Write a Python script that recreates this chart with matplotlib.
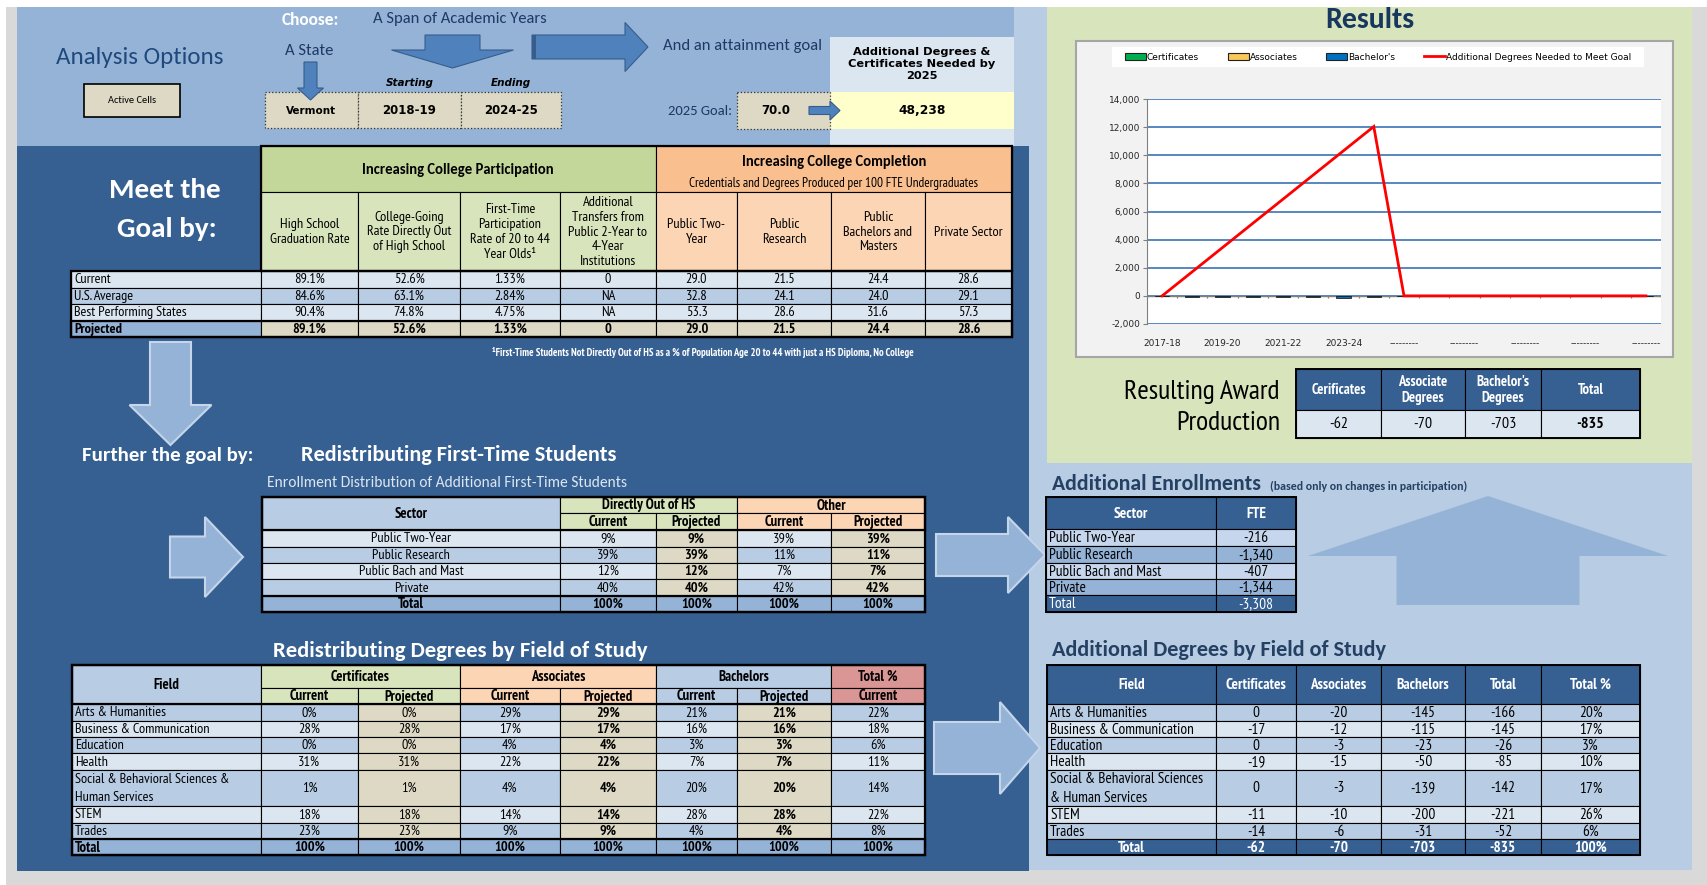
import matplotlib
matplotlib.use('Agg')
import matplotlib.pyplot as plt
from matplotlib.patches import Rectangle, Polygon, Patch
from matplotlib.lines import Line2D
from matplotlib import font_manager as fm
import numpy as np

# ---------------- data ----------------
state = "Vermont"
start_year = "2018-19"
end_year = "2024-25"
goal_2025 = 70.0
degrees_needed = 48238

goal_row_labels = ["Current", "U.S. Average", "Best Performing States", "Projected"]
hs_grad_rate = [89.1, 84.6, 90.4, 89.1]
college_going_rate = [52.6, 63.1, 74.8, 52.6]
first_time_rate = [1.33, 2.84, 4.75, 1.33]
transfers = ["0", "NA", "NA", "0"]
public_two_year = [29.0, 32.8, 53.3, 29.0]
public_research = [21.5, 24.1, 28.6, 21.5]
public_bach_mast = [24.4, 24.0, 31.6, 24.4]
private_sector = [28.6, 29.1, 57.3, 28.6]

participation_headers = ["High School\nGraduation Rate",
                         "College-Going\nRate Directly Out\nof High School",
                         "First-Time\nParticipation\nRate of 20 to 44\nYear Olds\u00b9",
                         "Additional\nTransfers from\nPublic 2-Year to\n4-Year\nInstitutions"]
completion_headers = ["Public Two-\nYear", "Public\nResearch", "Public\nBachelors and\nMasters", "Private Sector"]

sectors = ["Public Two-Year", "Public Research", "Public Bach and Mast", "Private"]
direct_current = [9, 39, 12, 40]
direct_projected = [9, 39, 12, 40]
other_current = [39, 11, 7, 42]
other_projected = [39, 11, 7, 42]
sector_totals = [100, 100, 100, 100]

fields = ["Arts & Humanities", "Business & Communication", "Education", "Health",
          "Social & Behavioral Sciences &\nHuman Services", "STEM", "Trades"]
cert_current = [0, 28, 0, 31, 1, 18, 23]
cert_projected = [0, 28, 0, 31, 1, 18, 23]
assoc_current = [29, 17, 4, 22, 4, 14, 9]
assoc_projected = [29, 17, 4, 22, 4, 14, 9]
bach_current = [21, 16, 3, 7, 20, 28, 4]
bach_projected = [21, 16, 3, 7, 20, 28, 4]
total_pct_current = [22, 18, 6, 11, 14, 22, 8]
field_totals = [100, 100, 100, 100, 100, 100, 100]

award_labels = ["Cerificates", "Associate\nDegrees", "Bachelor's\nDegrees", "Total"]
award_values = [-62, -70, -703, -835]

enroll_fte = [-216, -1340, -407, -1344]
enroll_total = -3308

fields_right = ["Arts & Humanities", "Business & Communication", "Education", "Health",
                "Social & Behavioral Sciences\n& Human Services", "STEM", "Trades"]
add_cert = [0, -17, 0, -19, 0, -11, -14]
add_assoc = [-20, -12, -3, -15, -3, -10, -6]
add_bach = [-145, -115, -23, -50, -139, -200, -31]
add_total = [-166, -145, -26, -85, -142, -221, -52]
add_total_pct = [20, 17, 3, 10, 17, 26, 6]
add_grand = [-62, -70, -703, -835]

chart_years = ["2017-18", "2018-19", "2019-20", "2020-21", "2021-22", "2022-23",
               "2023-24", "2024-25"] + ["---------"] * 9
needed_line = [0, 1720, 3440, 5160, 6880, 8600, 10320, 12040, 0, 0, 0, 0, 0, 0, 0, 0, 0]
bar_cert = [0, -9, -9, -9, -9, -9, -9, -8, 0, 0, 0, 0, 0, 0, 0, 0, 0]
bar_assoc = [0, -10, -10, -10, -10, -10, -10, -10, 0, 0, 0, 0, 0, 0, 0, 0, 0]
bar_bach = [0, -90, -90, -90, -90, -90, -163, -90, 0, 0, 0, 0, 0, 0, 0, 0, 0]

# ---------------- fonts ----------------
entries = fm.fontManager.ttflist


def has_bold(name):
    return any(e.name == name and str(e.weight) in ('700', 'bold') for e in entries)


def pick(cands, default):
    names = {e.name for e in entries}
    for c in cands:
        if c in names and has_bold(c):
            return c
    for c in cands:
        if c in names:
            return c
    return default


NARROW = pick(['Liberation Sans Narrow', 'PT Sans Narrow', 'Arimo Narrow', 'Roboto Condensed',
               'Archivo Narrow', 'Asap Condensed', 'Barlow Semi Condensed', 'Cabin Condensed',
               'Barlow Condensed'], 'DejaVu Sans')
CAL = pick(['Carlito', 'Lato'], 'DejaVu Sans')
WIDE = 'DejaVu Sans'

# ---------------- colours ----------------
DARK = '#366092'
MID = '#95b3d7'
PALE = '#b8cce4'
LIGHT = '#dce6f1'
TAN = '#ddd9c4'
GREEN_H = '#c4d79b'
GREEN = '#d8e4bc'
ORANGE_H = '#fabf8f'
ORANGE = '#fcd5b4'
PINK = '#da9694'

fig = plt.figure(figsize=(17.08, 8.85), dpi=100, facecolor='#d9d9d9')
ax = fig.add_axes([0, 0, 1, 1])
ax.set_xlim(0, 1708)
ax.set_ylim(885, 0)
ax.axis('off')


def rect(x0, y0, x1, y1, fc, ec='none', lw=0, ls='-', z=1):
    ax.add_patch(Rectangle((x0, y0), x1 - x0, y1 - y0, facecolor=fc, edgecolor=ec,
                           linewidth=lw, linestyle=ls, zorder=z))


def T(x, y, s, size=10, color='black', weight='normal', ha='center', va='center',
      fam=None, style='normal', z=6, ls=1.15):
    ax.text(x, y, s, fontsize=size, color=color, fontweight=weight, ha=ha, va=va,
            family=fam or NARROW, style=style, zorder=z, linespacing=ls)


def cell(x0, y0, x1, y1, fc, s='', size=10, weight='normal', color='black', ha='center',
         lw=0.8, fam=None, ls=1.15):
    rect(x0, y0, x1, y1, fc, ec='black', lw=lw, z=3)
    if s != '':
        tx = (x0 + x1) / 2 if ha == 'center' else x0 + 3
        T(tx, (y0 + y1) / 2 + 0.5, s, size, color, weight, ha=ha, fam=fam, ls=ls)


def outline(x0, y0, x1, y1, lw=1.6):
    rect(x0, y0, x1, y1, 'none', ec='black', lw=lw, z=4)


def arrow_right(x0, x1, x2, yc, sh, hh, fc, ec='none', lw=0, z=2):
    pts = [(x0, yc - sh), (x1, yc - sh), (x1, yc - hh), (x2, yc), (x1, yc + hh), (x1, yc + sh), (x0, yc + sh)]
    ax.add_patch(Polygon(pts, closed=True, facecolor=fc, edgecolor=ec, linewidth=lw, zorder=z))


def arrow_vert(y0, y1, y2, xc, sw, hw, fc, ec='none', lw=0, z=2):
    pts = [(xc - sw, y0), (xc - sw, y1), (xc - hw, y1), (xc, y2), (xc + hw, y1), (xc + sw, y1), (xc + sw, y0)]
    ax.add_patch(Polygon(pts, closed=True, facecolor=fc, edgecolor=ec, linewidth=lw, zorder=z))


# ---------------- background panels ----------------
rect(0, 0, 1708, 7, 'white')
rect(0, 0, 6, 885, 'white')
rect(1014, 7, 1692, 870, PALE)
rect(1047, 7, 1692, 463, GREEN)
rect(17, 7, 1014, 146, MID)
rect(17, 146, 1029, 871, DARK)

# ---------------- top analysis options ----------------
T(140, 57, "Analysis Options", 18, '#1f497d', fam=CAL)
rect(84, 84, 180, 117, TAN, ec='black', lw=1.2, z=3)
T(132, 100.5, "Active Cells", 7.5, fam=CAL)

T(310, 20, "Choose:", 12.5, 'white', 'bold', fam=CAL)
T(460, 19, "A Span of Academic Years", 12, '#1f3864', fam=CAL)
T(309, 51, "A State", 12, '#1f3864', fam=CAL)
BLUE = '#4f81bd'
BEDGE = '#385d8a'
arrow_vert(62, 88, 100, 310.5, 6.5, 13, BLUE, BEDGE, 0.8, z=5)
arrow_vert(35, 50, 68, 452.5, 27.5, 61, BLUE, BEDGE, 0.8)
arrow_right(532, 625, 648, 47, 12, 24.5, BLUE, BEDGE, 0.8)
rect(532, 35, 536, 59, BEDGE, z=3)

for (x0, x1, s, fsz) in [(265, 358, state, 7.5), (358, 461, start_year, 8.5), (461, 561, end_year, 8.5)]:
    rect(x0, 92, x1, 128, TAN, ec='#333333', lw=0.9, ls=':', z=3)
    T((x0 + x1) / 2, 111, s, fsz, 'black', 'bold', fam=WIDE)
T(410, 83, "Starting", 7.5, 'black', 'bold', fam=WIDE, style='italic')
T(511, 83, "Ending", 7.5, 'black', 'bold', fam=WIDE, style='italic')

T(743, 46, "And an attainment goal", 12, '#1f3864', fam=CAL)
T(700, 111, "2025 Goal:", 10.5, '#1f3864', fam=CAL)
rect(737, 92, 830, 129, TAN, ec='#333333', lw=0.9, ls=':', z=3)
T(776, 111, f"{goal_2025:.1f}", 8.5, 'black', 'bold', fam=WIDE)

rect(830, 37, 1014, 146, LIGHT, z=2)
rect(830, 92, 1014, 129, '#ffffcc', z=2)
T(922, 64, "Additional Degrees &\nCertificates Needed by\n2025", 8.2, 'black', 'bold', fam=WIDE, ls=1.3)
T(922, 111, f"{degrees_needed:,}", 8.8, 'black', 'bold', fam=WIDE)
arrow_right(809, 830, 840, 110.5, 4, 9.5, BLUE, BEDGE, 0.8, z=5)

# ---------------- Meet the goal table ----------------
T(165, 190, "Meet the", 21, 'white', 'bold', fam=CAL)
T(167, 229, "Goal by:", 21, 'white', 'bold', fam=CAL)

xs1 = [71, 261, 358, 460, 560, 656, 737, 831, 925, 1012]
ys1 = [271, 287.5, 304, 320.5, 337]
cell(261, 146, 656, 192, GREEN_H)
T(458, 170, "Increasing College Participation", 10.5, 'black', 'bold', fam=CAL)
cell(656, 146, 1012, 192, ORANGE_H)
T(834, 162, "Increasing College Completion", 10.5, 'black', 'bold', fam=CAL)
T(834, 183, "Credentials and Degrees Produced per 100 FTE Undergraduates", 9.5)
sub_headers = participation_headers + completion_headers
for i, h in enumerate(sub_headers):
    cell(xs1[i + 1], 192, xs1[i + 2], 271, GREEN if i < 4 else ORANGE, h, 10.3, ls=1.17)

row_fill1 = [LIGHT, PALE, LIGHT, MID]
for r in range(4):
    vals = [f"{hs_grad_rate[r]:.1f}%", f"{college_going_rate[r]:.1f}%", f"{first_time_rate[r]:.2f}%",
            transfers[r], f"{public_two_year[r]:.1f}", f"{public_research[r]:.1f}",
            f"{public_bach_mast[r]:.1f}", f"{private_sector[r]:.1f}"]
    proj = (r == 3)
    cell(xs1[0], ys1[r], xs1[1], ys1[r + 1], row_fill1[r], goal_row_labels[r], 10.3,
         'bold' if proj else 'normal', ha='left')
    for c, v in enumerate(vals):
        cell(xs1[c + 1], ys1[r], xs1[c + 2], ys1[r + 1], TAN if proj else row_fill1[r], v, 10.3,
             'bold' if proj else 'normal')
outline(71, 271, 1012, 337)
outline(71, 320.5, 1012, 337)
outline(261, 146, 1012, 271)
T(703, 352, "\u00b9First-Time Students Not Directly Out of HS as a % of Population Age 20 to 44 with just a HS Diploma, No College",
  7.6, 'white', 'bold')

# ---------------- further the goal ----------------
PEDGE = '#c5d5ea'
arrow_vert(342, 405, 445, 170.5, 20.5, 41, MID, PEDGE, 1.5)
T(168, 455, "Further the goal by:", 15, 'white', 'bold', fam=CAL)
T(459, 455, "Redistributing First-Time Students", 16, 'white', 'bold', fam=CAL)
T(447, 483, "Enrollment Distribution of Additional First-Time Students", 11.2, '#dce6f1', fam=CAL)
arrow_right(170, 205, 243, 557, 20.5, 40, MID, PEDGE, 1.5)

xs2 = [262, 560, 656, 737, 831, 925]
ys2 = [530, 547, 563, 579, 596, 612]
cell(262, 497, 560, 530, PALE, "Sector", 10.5, 'bold')
cell(560, 497, 737, 513, GREEN, "Directly Out of HS", 10.5, 'bold')
cell(737, 497, 925, 513, ORANGE, "Other", 10.5, 'bold')
for i, (lab, col) in enumerate([("Current", GREEN), ("Projected", GREEN), ("Current", ORANGE), ("Projected", ORANGE)]):
    cell(xs2[i + 1], 513, xs2[i + 2], 530, col, lab, 10.5, 'bold')
row_fill2 = [LIGHT, PALE, LIGHT, PALE]
for r in range(4):
    cell(xs2[0], ys2[r], xs2[1], ys2[r + 1], row_fill2[r], sectors[r], 10.3)
    vals = [direct_current[r], direct_projected[r], other_current[r], other_projected[r]]
    for c, v in enumerate(vals):
        proj = c in (1, 3)
        cell(xs2[c + 1], ys2[r], xs2[c + 2], ys2[r + 1], TAN if proj else row_fill2[r], f"{v}%", 10.3,
             'bold' if proj else 'normal')
cell(xs2[0], ys2[4], xs2[1], ys2[5], MID, "Total", 10.5, 'bold')
for c, v in enumerate(sector_totals):
    cell(xs2[c + 1], ys2[4], xs2[c + 2], ys2[5], MID, f"{v}%", 10.3, 'bold')
outline(262, 497, 925, 612)
outline(262, 596, 925, 612)
outline(262, 497, 925, 530)

arrow_right(936, 1008, 1045, 555, 21, 38, MID, PEDGE, 1.5)

# ---------------- field of study table ----------------
T(460, 651, "Redistributing Degrees by Field of Study", 16.3, 'white', 'bold', fam=CAL)
xs3 = [72, 261, 358, 460, 560, 656, 737, 831, 925]
ys3 = [704, 721, 737, 753, 770, 806, 823, 839, 855]
cell(72, 665, 261, 704, PALE, "Field", 10.5, 'bold')
for (x0, x1, lab, col) in [(261, 460, "Certificates", GREEN), (460, 656, "Associates", ORANGE),
                           (656, 831, "Bachelors", PALE), (831, 925, "Total %", PINK)]:
    cell(x0, 665, x1, 688, col, lab, 10.5, 'bold')
sub3 = ["Current", "Projected", "Current", "Projected", "Current", "Projected", "Current"]
sub3c = [GREEN, GREEN, ORANGE, ORANGE, PALE, PALE, PINK]
for i in range(7):
    cell(xs3[i + 1], 688, xs3[i + 2], 704, sub3c[i], sub3[i], 10.5, 'bold')
row_fill3 = [PALE, LIGHT, PALE, LIGHT, PALE, LIGHT, PALE]
for r in range(7):
    cell(xs3[0], ys3[r], xs3[1], ys3[r + 1], row_fill3[r], fields[r], 10.3, ha='left', ls=1.5)
    vals = [cert_current[r], cert_projected[r], assoc_current[r], assoc_projected[r],
            bach_current[r], bach_projected[r], total_pct_current[r]]
    for c, v in enumerate(vals):
        proj = c in (1, 3, 5)
        bold = c in (3, 5)
        cell(xs3[c + 1], ys3[r], xs3[c + 2], ys3[r + 1], TAN if proj else row_fill3[r], f"{v}%", 10.3,
             'bold' if bold else 'normal')
cell(xs3[0], ys3[7], xs3[1], ys3[8], MID, "Total", 10.5, 'bold', ha='left')
for c, v in enumerate(field_totals):
    cell(xs3[c + 1], ys3[7], xs3[c + 2], ys3[8], MID, f"{v}%", 10.3, 'bold')
outline(72, 665, 925, 855)
outline(72, 839, 925, 855)
outline(72, 665, 925, 704)

arrow_right(934, 1000, 1040, 748, 26, 46, MID, PEDGE, 1.5)

# ---------------- results (right) ----------------
T(1370, 20, "Results", 21.5, '#17375e', 'bold', fam=CAL)
rect(1076, 41, 1673, 357, '#f2f2f2', ec='#a6a6a6', lw=1.5, z=2)
rect(1112, 47, 1644, 67, 'white', z=3)

T(1280, 392, "Resulting Award", 20, ha='right')
T(1280, 423, "Production", 20, ha='right')
xsa = [1296, 1381, 1465, 1541, 1640]
for i in range(4):
    cell(xsa[i], 369, xsa[i + 1], 410, DARK, award_labels[i], 10.5, 'bold', 'white', ls=1.2)
    cell(xsa[i], 410, xsa[i + 1], 438, LIGHT, f"{award_values[i]:,}", 11.5,
         'bold' if i == 3 else 'normal')
outline(1296, 369, 1640, 438, 1.4)

# additional enrollments
arrow_vert(605, 556, 496, 1488, 91.5, 180, MID)
ax.text(1052, 484, "Additional Enrollments", fontsize=15.7, color='#244062', fontweight='bold',
        family=CAL, ha='left', va='center', zorder=6)
T(1270, 486, "(based only on changes in participation)", 8.6, '#244062', 'bold', ha='left', fam=CAL)
xse = [1046, 1216, 1296]
yse = [529, 546, 563, 579, 595, 612]
cell(1046, 497, 1216, 529, DARK, "Sector", 11, 'bold', 'white')
cell(1216, 497, 1296, 529, DARK, "FTE", 11, 'bold', 'white')
row_fille = ['#c6d6ec', MID, '#c6d6ec', MID]
for r in range(4):
    cell(xse[0], yse[r], xse[1], yse[r + 1], row_fille[r], sectors[r], 11, ha='left')
    cell(xse[1], yse[r], xse[2], yse[r + 1], row_fille[r], f"{enroll_fte[r]:,}", 11)
cell(xse[0], yse[4], xse[1], yse[5], DARK, "Total", 11, color='white', ha='left')
cell(xse[1], yse[4], xse[2], yse[5], DARK, f"{enroll_total:,}", 11, color='white')
outline(1046, 497, 1296, 612, 1.4)

# additional degrees by field
ax.text(1052, 650, "Additional Degrees by Field of Study", fontsize=16, color='#244062',
        fontweight='bold', family=CAL, ha='left', va='center', zorder=6)
xsf = [1047, 1216, 1296, 1381, 1465, 1541, 1640]
ysf = [704, 721, 737, 753, 770, 806, 823, 839, 855]
heads_f = ["Field", "Certificates", "Associates", "Bachelors", "Total", "Total %"]
for i, h in enumerate(heads_f):
    cell(xsf[i], 665, xsf[i + 1], 704, DARK, h, 11, 'bold', 'white')
for r in range(7):
    cell(xsf[0], ysf[r], xsf[1], ysf[r + 1], row_fill3[r], fields_right[r], 11, ha='left', ls=1.45)
    vals = [f"{add_cert[r]:,}", f"{add_assoc[r]:,}", f"{add_bach[r]:,}", f"{add_total[r]:,}",
            f"{add_total_pct[r]}%"]
    for c, v in enumerate(vals):
        cell(xsf[c + 1], ysf[r], xsf[c + 2], ysf[r + 1], row_fill3[r], v, 11)
cell(xsf[0], ysf[7], xsf[1], ysf[8], DARK, "Total", 11, 'bold', 'white')
for c, v in enumerate([f"{g:,}" for g in add_grand] + ["100%"]):
    cell(xsf[c + 1], ysf[7], xsf[c + 2], ysf[8], DARK, v, 11, 'bold', 'white')
outline(1047, 665, 1640, 855, 1.4)

# ---------------- chart ----------------
cax = fig.add_axes([1147 / 1708, 1 - 324 / 885, 514 / 1708, 225 / 885])
cax.set_facecolor('white')
x = np.arange(len(chart_years))
bc = np.array(bar_cert, dtype=float)
ba = np.array(bar_assoc, dtype=float)
bb = np.array(bar_bach, dtype=float)
cax.bar(x, bc, width=0.47, color='#00b050', edgecolor='#222222', linewidth=0.6, zorder=3)
cax.bar(x, ba, bottom=bc, width=0.47, color='#fac858', edgecolor='#222222', linewidth=0.6, zorder=3)
cax.bar(x, bb, bottom=bc + ba, width=0.47, color='#0070c0', edgecolor='#222222', linewidth=0.6, zorder=3)
cax.plot(x, needed_line, color='#ff0000', lw=2.0, zorder=4, solid_joinstyle='miter')
cax.set_xlim(-0.5, len(chart_years) - 0.5)
cax.set_ylim(-2000, 14000)
cax.set_yticks(np.arange(-2000, 14001, 2000))
cax.yaxis.set_major_formatter(matplotlib.ticker.FuncFormatter(lambda v, p: f"{v:,.0f}"))
cax.grid(axis='y', color='#4a7ebb', lw=1.3, zorder=0)
cax.set_axisbelow(True)
cax.axhline(0, color='#7f7f7f', lw=1.0, zorder=2)
cax.vlines(np.arange(-0.5, len(chart_years)), -180, 0, color='#7f7f7f', lw=0.9, zorder=2)
for s in ['top', 'right', 'bottom']:
    cax.spines[s].set_visible(False)
cax.spines['left'].set_color('#7f7f7f')
cax.set_xticks(x[::2])
cax.set_xticklabels(chart_years[::2], fontsize=6.5, color='#262626', family=WIDE)
cax.tick_params(axis='x', length=0, pad=11)
cax.tick_params(axis='y', length=3, pad=2, colors='#7f7f7f', labelcolor='#262626', labelsize=6.5)

handles = [Patch(facecolor='#00b050', edgecolor='#222222', lw=0.8),
           Patch(facecolor='#fac858', edgecolor='#222222', lw=0.8),
           Patch(facecolor='#0070c0', edgecolor='#222222', lw=0.8),
           Line2D([0], [0], color='#ff0000', lw=2)]
labels = ["Certificates", "Associates", "Bachelor's", "Additional Degrees Needed to Meet Goal"]
fig.legend(handles, labels, loc='center', bbox_to_anchor=(1378 / 1708, 1 - 57 / 885), ncol=4,
           frameon=False, handlelength=2.3, handleheight=0.7, columnspacing=3.2,
           handletextpad=0.1, prop={'family': WIDE, 'size': 6.5})

fig.savefig('out.png', dpi=100, facecolor=fig.get_facecolor())
